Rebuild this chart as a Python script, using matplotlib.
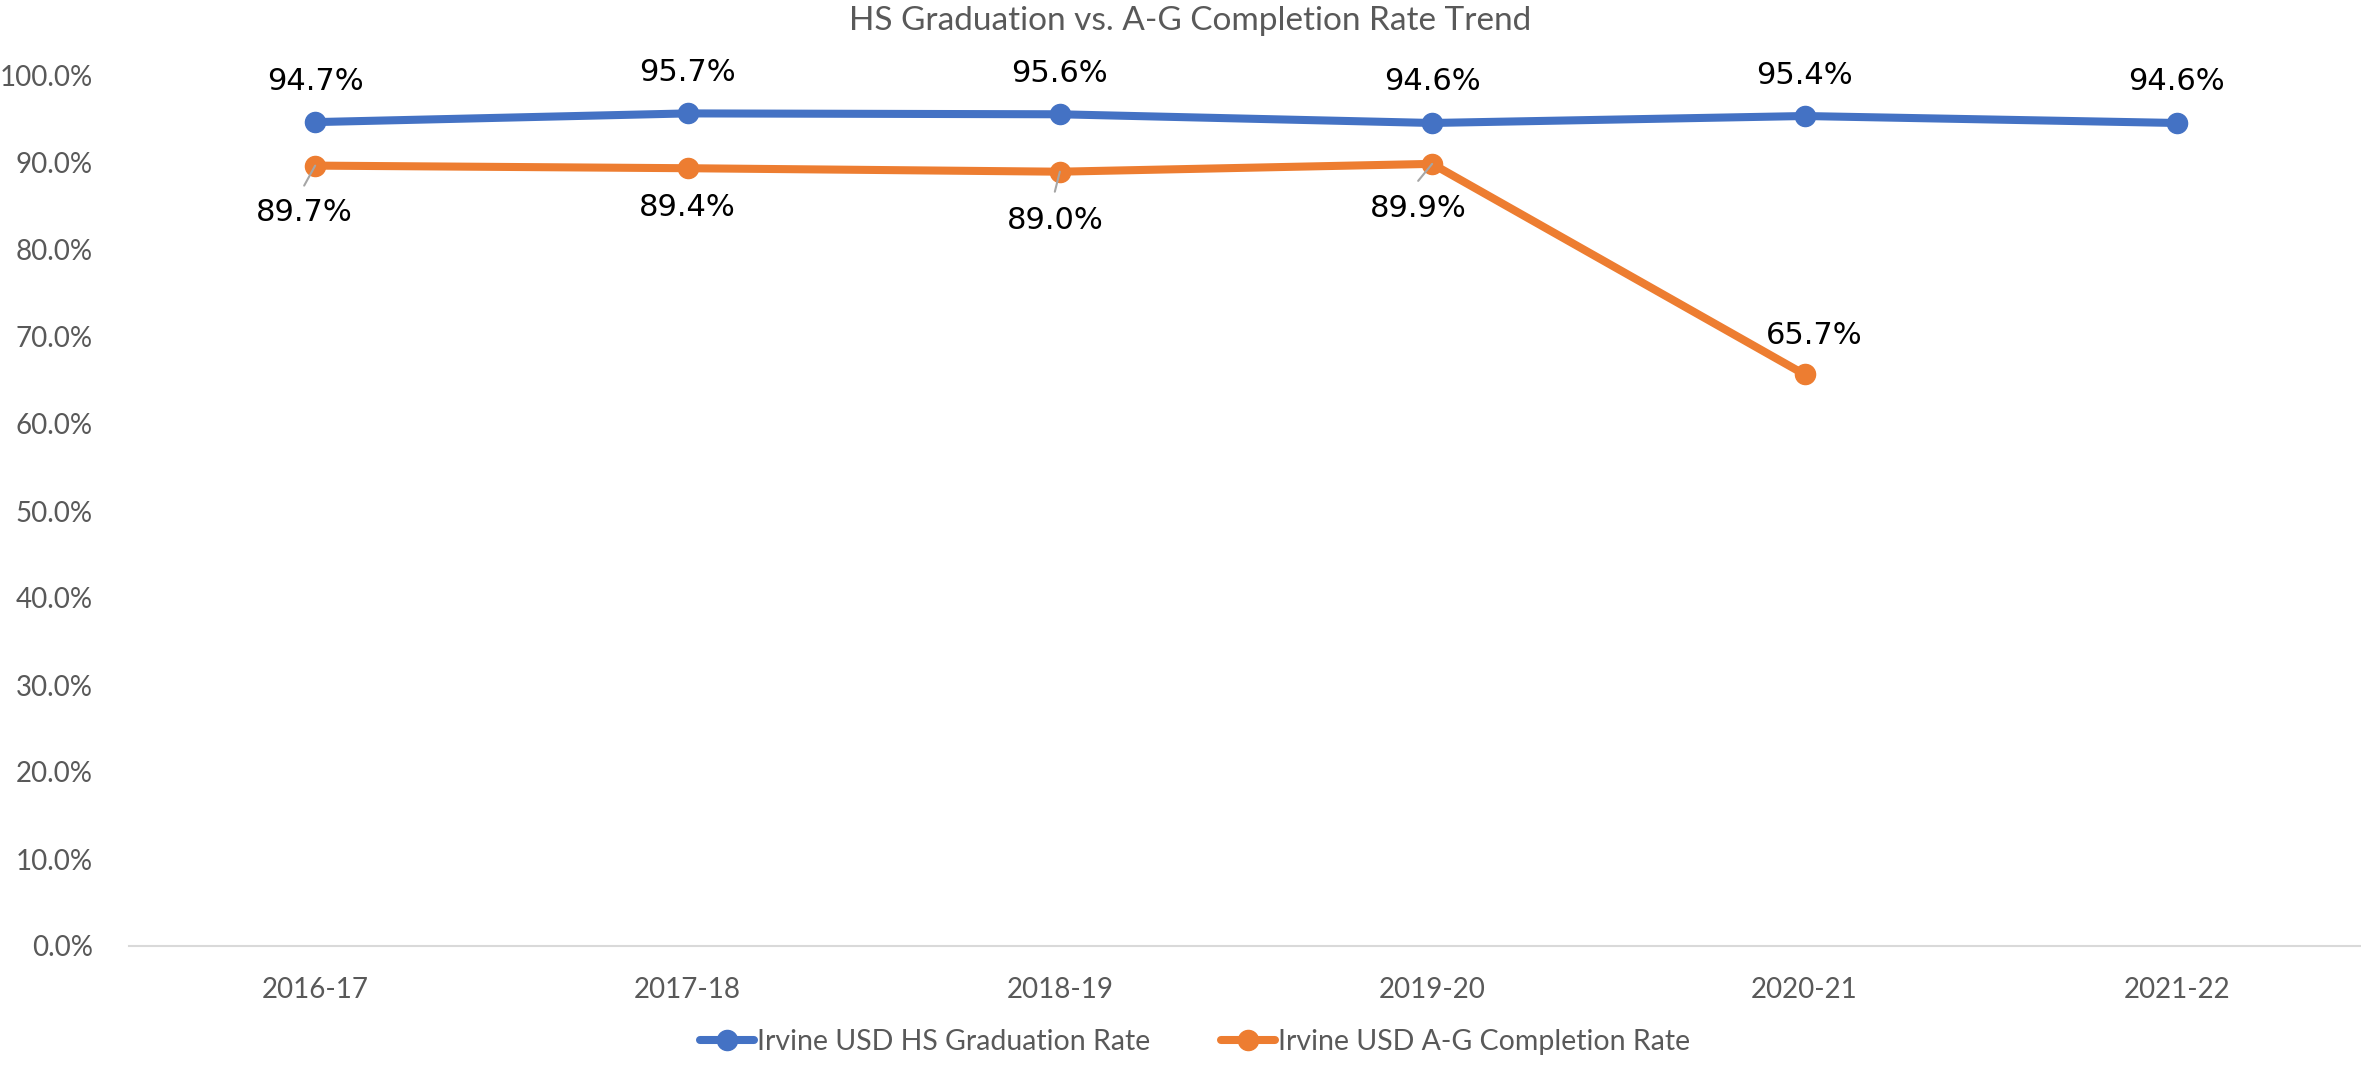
import matplotlib
matplotlib.use("Agg")
import matplotlib.pyplot as plt
from matplotlib.ticker import FuncFormatter

years = ["2016-17", "2017-18", "2018-19", "2019-20", "2020-21", "2021-22"]
grad_rate = [94.7, 95.7, 95.6, 94.6, 95.4, 94.6]
ag_rate = [89.7, 89.4, 89.0, 89.9, 65.7]
yticks = [0, 10, 20, 30, 40, 50, 60, 70, 80, 90, 100]

series_names = ["Irvine USD HS Graduation Rate", "Irvine USD A-G Completion Rate"]
colors = ["#4472C4", "#ED7D31"]

# label offsets in pixels (dx, dy) relative to the data point
grad_offsets = [(0, 41)] * len(grad_rate)
ag_offsets = [(-11, -47), (0, -39), (-5, -49), (-14, -45), (10, 39)]
ag_leaders = [(-11, -20), None, (-5, -20), (-14, -17), None]

FONT = "Lato"
GRAY = "#595959"

fig = plt.figure(figsize=(23.61, 10.66), dpi=100)
ax = fig.add_axes([129 / 2361, 120 / 1066, 2234 / 2361, 870 / 1066])

x_g = list(range(len(grad_rate)))
x_a = list(range(len(ag_rate)))
ax.plot(x_g, grad_rate, color=colors[0], lw=5.8, marker="o", ms=14.5,
        solid_capstyle="round", label=series_names[0], zorder=3)
ax.plot(x_a, ag_rate, color=colors[1], lw=5.8, marker="o", ms=14.5,
        solid_capstyle="round", label=series_names[1], zorder=3)

for i, v in enumerate(grad_rate):
    dx, dy = grad_offsets[i]
    ax.annotate(f"{v:.1f}%", xy=(i, v), xytext=(dx, dy), textcoords="offset pixels",
                ha="center", va="center", fontsize=22, family="DejaVu Sans",
                color="black", zorder=5)
for i, v in enumerate(ag_rate):
    dx, dy = ag_offsets[i]
    ax.annotate(f"{v:.1f}%", xy=(i, v), xytext=(dx, dy), textcoords="offset pixels",
                ha="center", va="center", fontsize=22, family="DejaVu Sans",
                color="black", zorder=5)
    if ag_leaders[i] is not None:
        ax.annotate("", xy=(i, v), xytext=ag_leaders[i], textcoords="offset pixels",
                    arrowprops=dict(arrowstyle="-", color="#A6A6A6", lw=1.5,
                                    shrinkA=0, shrinkB=0), zorder=4)

ax.set_xlim(-0.5, len(years) - 0.5)
ax.set_ylim(0, 100)
ax.set_xticks(range(len(years)))
ax.set_xticklabels(years)
ax.set_yticks(yticks)
ax.yaxis.set_major_formatter(FuncFormatter(lambda v, p: f"{v:.1f}%"))

for s in ["top", "right", "left"]:
    ax.spines[s].set_visible(False)
ax.spines["bottom"].set_color("#D9D9D9")
ax.spines["bottom"].set_linewidth(1.5)
ax.tick_params(axis="both", length=0, labelsize=20, labelcolor=GRAY)
ax.tick_params(axis="x", pad=22)
ax.tick_params(axis="y", pad=26)
for lbl in ax.get_xticklabels() + ax.get_yticklabels():
    lbl.set_family(FONT)

fig.text(1190 / 2361, 1 - 21 / 1066, "HS Graduation vs. A-G Completion Rate Trend",
         ha="center", va="center", fontsize=24, color=GRAY, family=FONT)

leg = fig.legend(loc="center", bbox_to_anchor=(1195 / 2361, 1 - 1042 / 1066), ncol=2,
                 frameon=False, handlelength=1.9, handletextpad=0.1,
                 columnspacing=2.5, prop={"family": FONT, "size": 20.5})
for t in leg.get_texts():
    t.set_color(GRAY)

fig.savefig("out.png", dpi=100)
